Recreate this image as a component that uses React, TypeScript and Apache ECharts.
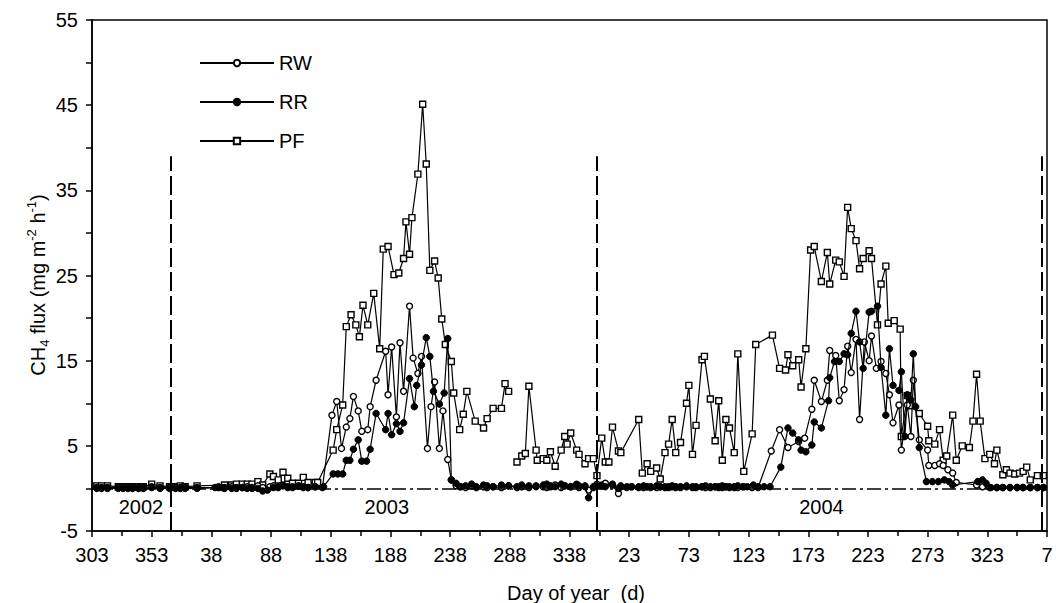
import React, { useEffect, useRef } from "react";
import * as echarts from "echarts";

// x = days counted from day 303 of 2002 (tick every 50 days)
const tickLabels = ["303", "353", "38", "88", "138", "188", "238", "288", "338", "23", "73", "123", "173", "223", "273", "323", "7"];
const yearLabels = ["2002", "2003", "2004"];
const yearLabelDays = [41, 247, 611];
const yearBoundaries = [66, 423, 796];

const rwData: [number, number | null][] = [
  [4, 0.1], [8, 0.1], [13, 0.1], [22, 0.1], [26, 0.1], [30, 0.1], [34, 0.1], [39, 0.1], [43, 0.1], [50, 0.2], [57, 0.1], [65, 0.1], [70, 0.1], [74, 0.1], [78, 0.1], [88, 0.1],
  [106, 0.1], [111, 0.1], [117, 0.2], [121, 0.1], [126, 0.1], [130, 0.2], [134, 0.1], [139, 0.3], [143, 0.1], [149, 0.2], [152, 0.3], [156, 0.1], [160, 0.4], [164, 0.2], [168, 0.1], [173, 0.3], [177, 0.2], [181, 0.1], [187, 0.2], [193, 0.1],
  [201, 8.6], [205, 10.2], [209, 4.7], [213, 7.2], [216, 8.2], [219, 10.8], [223, 9.1], [226, 6.7], [231, 6.9], [233, 9.6], [238, 12.7], [246, 16.1], [248, 11.0], [251, 16.6], [255, 8.4], [258, 17.1], [261, 11.4], [266, 21.4], [269, 15.3], [273, 13.5], [276, 15.5], [281, 4.7], [284, 9.6], [287, 12.5], [291, 4.7], [294, 9.1], [298, 3.4], [301, 1.0], [305, 0.3],
  [309, 0.2], [313, 0.1], [318, 0.3], [322, 0.1], [328, 0.2], [331, 0.1], [336, 0.2], [343, 0.1], [349, 0.3], [356, 0.1], [360, 0.2], [366, 0.1], [372, 0.3], [378, 0.2], [381, 0.1], [384, 0.2], [388, 0.4], [393, 0.1], [396, 0.3], [401, 0.2], [406, 0.5], [408, 0.1], [413, 0.3], [416, -0.2], [420, 0.1], [423, 0.5], [427, 0.3], [430, 0.6], [436, 0.4], [441, -0.6], [443, 0.2],
  [448, 0.1], [452, 0.2], [458, 0.1], [462, 0.1], [465, 0.2], [468, 0.1], [473, 0.1], [476, 0.2], [480, 0.1], [483, 0.1], [486, 0.2], [489, 0.1], [493, 0.1], [498, 0.2], [503, 0.1], [506, 0.1], [511, 0.2], [514, 0.1], [518, 0.1], [522, 0.2], [525, 0.1], [528, 0.1], [531, 0.2], [534, 0.1], [538, 0.1], [541, 0.1], [546, 0.2], [553, 0.1], [558, 0.1],
  [569, 4.4], [576, 6.9], [583, 4.8], [592, 5.5], [597, 5.9], [603, 9.3], [605, 12.7], [611, 10.2], [616, 12.7], [618, 16.2], [623, 15.6], [626, 10.3], [630, 11.6], [633, 16.7], [636, 13.6], [640, 17.5], [643, 8.1], [647, 17.2], [651, 15.0], [653, 17.9], [657, 14.1], [661, 14.9], [665, 13.5], [668, 11.0], [671, 7.7], [676, 9.8], [678, 4.5], [683, 9.8], [686, 6.1], [688, 12.7], [693, 5.7], [700, 4.5], [701, 2.7], [706, 2.7], [710, 2.9], [713, 2.7], [717, 2.2], [721, 1.8], [724, 0.7],
  [741, 0.4], [746, 0.2], [752, 0.1], [758, 0.1], [763, 0.1], [769, 0.1], [775, 0.1], [780, 0.1], [786, 0.1], [792, 0.1], [797, 0.1],
];

const rrData: [number, number | null][] = [
  [4, 0.0], [8, 0.0], [13, 0.0], [22, 0.0], [26, 0.0], [30, 0.0], [34, 0.0], [39, 0.0], [43, 0.0], [50, 0.1], [57, 0.0], [65, 0.0], [70, 0.0], [74, 0.0], [78, 0.0], [88, 0.0],
  [103, 0.1], [106, 0.2], [109, 0.1], [111, 0.0], [117, 0.0], [121, 0.0], [126, 0.1], [130, 0.0], [134, 0.0], [139, 0.0], [143, -0.3], [147, -0.2], [152, 0.1], [156, 0.2], [160, 0.3], [164, 0.1], [168, 0.2], [173, 0.3], [177, 0.1], [181, 0.1], [187, 0.2], [194, 0.2],
  [202, 1.7], [206, 1.7], [210, 1.7], [213, 3.3], [216, 3.3], [219, 4.6], [223, 5.7], [226, 3.2], [230, 3.2], [233, 4.6], [238, 8.8], [246, 6.9], [248, 8.8], [251, 6.3], [255, 7.6], [258, 6.7], [261, 7.7], [266, 12.9], [270, 9.6], [272, 12.1], [276, 14.5], [280, 17.7], [283, 15.5], [286, 11.4], [291, 9.9], [295, 11.2], [298, 17.6], [301, 1.0], [305, 0.6], [308, 0.2],
  [313, 0.3], [318, 0.5], [322, 0.2], [328, 0.4], [331, 0.3], [336, 0.2], [343, 0.4], [349, 0.3], [356, 0.2], [360, 0.4], [366, 0.3], [372, 0.2], [378, 0.4], [381, 0.5], [384, 0.3], [388, 0.2], [393, 0.5], [396, 0.3], [401, 0.2], [406, 0.4], [408, 0.3], [413, 0.2], [416, -1.1], [420, 0.2], [423, 0.3], [427, 0.4], [430, 0.2], [436, 0.5], [441, 0.0], [443, 0.3],
  [448, 0.2], [452, 0.2], [458, 0.2], [462, 0.3], [465, 0.2], [468, 0.2], [473, 0.3], [476, 0.2], [480, 0.2], [483, 0.2], [486, 0.3], [489, 0.2], [493, 0.2], [498, 0.3], [503, 0.2], [506, 0.2], [511, 0.2], [514, 0.3], [518, 0.2], [522, 0.2], [525, 0.2], [528, 0.3], [531, 0.2], [534, 0.2], [538, 0.2], [541, 0.3], [545, 0.2], [549, 0.2], [554, 0.4], [558, 0.2], [563, 0.2], [568, 0.2],
  [577, 2.5], [583, 7.1], [587, 6.5], [592, 5.7], [594, 4.5], [598, 4.3], [603, 5.1], [605, 7.8], [611, 7.1], [617, 10.3], [618, 13.0], [622, 14.9], [626, 14.9], [630, 15.8], [633, 15.7], [636, 18.2], [640, 20.8], [643, 17.2], [646, 14.1], [651, 20.7], [653, 20.8], [658, 21.4], [661, 14.2], [665, 8.6], [668, 16.4], [671, 12.1], [676, 11.5], [678, 13.7], [681, 6.1], [683, 11.0], [686, 10.4], [688, 15.8], [690, 9.6], [693, 4.8], [699, 0.8], [704, 0.8], [709, 0.8], [714, 1.0], [718, 0.8], [721, 0.4],
  [742, 0.8], [746, 1.0], [749, 0.6], [753, 0.1], [758, 0.1], [763, 0.1], [769, 0.1], [775, 0.1], [780, 0.1], [786, 0.1], [792, 0.1], [797, 0.1],
];

const pfData: [number, number | null][] = [
  [4, 0.3], [8, 0.3], [13, 0.3], [22, 0.2], [26, 0.2], [30, 0.2], [34, 0.2], [39, 0.2], [43, 0.2], [50, 0.5], [57, 0.3], [65, 0.2], [70, 0.2], [74, 0.3], [78, 0.2], [88, 0.3],
  [111, 0.4], [117, 0.4], [121, 0.5], [126, 0.5], [130, 0.5], [134, 0.5], [139, 0.8], [143, 0.4], [149, 1.7], [152, 1.4], [156, 1.0], [160, 1.9], [164, 1.2], [168, 0.6], [173, 0.6], [177, 1.3], [181, 0.7], [187, 0.7], [189, 0.7],
  [202, 4.5], [205, 6.9], [210, 9.8], [213, 19.0], [217, 20.4], [221, 19.2], [224, 17.8], [227, 21.5], [231, 19.2], [236, 22.9], [241, 16.4], [244, 28.1], [248, 28.4], [253, 25.1], [257, 25.3], [261, 27.0], [263, 31.3], [266, 27.5], [268, 31.8], [273, 36.9], [277, 45.1], [280, 38.1], [283, 25.6], [287, 26.7], [290, 24.7], [293, 19.9], [296, 16.9], [301, 14.9], [303, 11.2], [308, 6.9], [311, 8.7], [314, 11.4], [321, 7.9], [328, 7.1], [331, 8.2], [336, 9.4], [343, 9.4], [346, 12.3], [349, 11.4],
  [352, null],
  [356, 3.1], [360, 3.8], [363, 4.1], [366, 12.0], [372, 4.5], [373, 3.3], [378, 3.5], [381, 3.3], [384, 4.3], [388, 2.6], [393, 4.5], [396, 6.1], [398, 5.2], [401, 6.5], [406, 4.5], [408, 4.0], [413, 2.9], [416, 3.5], [420, 3.5], [423, 1.5], [427, 5.9], [430, 3.1], [433, 3.1], [436, 7.2], [441, 4.4], [443, 4.2],
  [458, 8.1], [461, 1.8], [465, 2.9], [468, 2.0], [473, 2.4], [476, 1.1], [480, 4.2], [483, 5.2], [486, 8.1], [489, 4.2], [493, 5.4], [498, 10.0], [500, 12.1], [503, 4.0], [506, 7.4], [511, 15.1], [513, 15.5], [518, 10.5], [522, 5.6], [525, 10.3], [528, 3.3], [531, 8.1], [534, 7.1], [538, 4.2], [541, 15.8], [546, 2.0], [553, 6.4], [556, 16.9], [570, 18.0],
  [576, 14.1], [581, 13.9], [583, 15.7], [587, 14.4], [592, 15.1], [594, 11.9], [598, 16.4], [602, 28.0], [605, 28.4], [611, 24.3], [616, 27.7], [618, 24.0], [623, 26.8], [626, 26.6], [630, 24.9], [633, 33.0], [636, 30.5], [640, 29.1], [643, 25.8], [646, 27.0], [651, 27.9], [653, 27.0], [658, 19.2], [661, 24.0], [665, 26.1], [667, 19.4], [672, 19.7], [677, 18.7], [678, 6.1],
  [683, 10.9], [686, 9.7], [693, 8.8], [700, 7.3], [701, 5.6], [706, 5.2], [710, 6.9], [713, 3.3], [716, 3.8], [721, 8.6], [724, 3.3], [729, 5.0], [735, 4.8], [738, 7.9], [741, 13.4], [744, 7.9], [748, 3.5], [752, 4.0], [756, 2.9], [758, 4.5], [763, 1.6], [766, 2.2], [769, 1.8], [773, 1.7], [777, 1.8], [780, 2.0], [783, 2.5], [786, 1.0], [792, 1.5], [797, 1.5],
];

const FONT = "'Liberation Sans', Arial, Helvetica, sans-serif";

export default function App() {
  const ref = useRef<HTMLDivElement>(null);

  useEffect(() => {
    if (!ref.current) return;
    const chart = echarts.init(ref.current, undefined, { renderer: "svg" });

    const option: any = {
      animation: false,
      backgroundColor: "#fff",
      textStyle: { fontFamily: FONT, color: "#000" },
      grid: {
        left: 92,
        right: 9,
        top: 20,
        bottom: 72,
        show: true,
        borderColor: "#000",
        borderWidth: 1.5,
        containLabel: false,
      },
      legend: {
        orient: "vertical",
        left: 199,
        top: 53,
        padding: 0,
        itemWidth: 74,
        itemHeight: 8,
        itemGap: 19,
        textStyle: { fontSize: 20, color: "#000", fontFamily: FONT },
        data: ["RW", "RR", "PF"],
      },
      xAxis: {
        type: "value",
        min: 0,
        max: 800,
        interval: 50,
        axisLine: { onZero: false, lineStyle: { color: "#000", width: 1.5 } },
        axisTick: { show: true, length: 6, lineStyle: { color: "#000", width: 1.5 } },
        minorTick: { show: true, splitNumber: 2, length: 5, lineStyle: { color: "#000", width: 1.5 } },
        splitLine: { show: false },
        axisLabel: {
          fontSize: 20,
          color: "#000",
          fontFamily: FONT,
          margin: 14,
          formatter: (v: number) => tickLabels[Math.round(v / 50)] ?? "",
        },
      },
      yAxis: {
        type: "value",
        min: -5,
        max: 55,
        interval: 10,
        axisLine: { onZero: false, lineStyle: { color: "#000", width: 1.5 } },
        axisTick: { show: true, length: 6, lineStyle: { color: "#000", width: 1.5 } },
        minorTick: { show: true, splitNumber: 2, length: 6, lineStyle: { color: "#000", width: 1.5 } },
        splitLine: { show: false },
        axisLabel: { fontSize: 20, color: "#000", fontFamily: FONT, margin: 14 },
      },
      series: [
        {
          name: "PF",
          type: "line",
          data: pfData,
          connectNulls: false,
          symbol: "rect",
          symbolSize: 6,
          itemStyle: { color: "#fff", borderColor: "#000", borderWidth: 1.4 },
          lineStyle: { color: "#000", width: 1.2 },
          z: 2,
          markLine: {
            silent: true,
            symbol: ["none", "none"],
            label: { show: false },
            animation: false,
            data: [
              [
                { coord: [0, 0], lineStyle: { type: [14, 4, 3, 4], width: 1.5, color: "#000" } },
                { coord: [800, 0] },
              ],
              ...yearBoundaries.map((b) => [
                { coord: [b, -5], lineStyle: { type: [19, 5], width: 2, color: "#000" } },
                { coord: [b, 39] },
              ]),
            ],
          },
        },
        {
          name: "RW",
          type: "line",
          data: rwData,
          symbol: "circle",
          symbolSize: 6,
          itemStyle: { color: "#fff", borderColor: "#000", borderWidth: 1.4 },
          lineStyle: { color: "#000", width: 1.2 },
          z: 3,
          markPoint: {
            silent: true,
            symbol: "circle",
            symbolSize: 0,
            animation: false,
            label: { show: true, fontSize: 20, color: "#000", fontFamily: FONT, position: "inside" },
            data: yearLabels.map((t, i) => ({
              coord: [yearLabelDays[i], -2.2],
              value: t,
              label: { formatter: t },
            })),
          },
        },
        {
          name: "RR",
          type: "line",
          data: rrData,
          symbol: "circle",
          symbolSize: 6.5,
          itemStyle: { color: "#000", borderColor: "#000", borderWidth: 1 },
          lineStyle: { color: "#000", width: 1.2 },
          z: 4,
        },
      ],
      graphic: [
        {
          type: "text",
          x: 38,
          y: 285,
          rotation: Math.PI / 2,
          style: {
            text: "{n|CH}{sub|4}{n| flux (mg m}{sup|-2}{n| h}{sup|-1}{n|)}",
            align: "center",
            verticalAlign: "middle",
            fill: "#000",
            rich: {
              n: { fontSize: 20, fontFamily: FONT, lineHeight: 26, fill: "#000" },
              sub: { fontSize: 13, fontFamily: FONT, lineHeight: 14, verticalAlign: "bottom", fill: "#000" },
              sup: { fontSize: 13, fontFamily: FONT, lineHeight: 14, verticalAlign: "top", fill: "#000" },
            },
          },
        },
        {
          type: "text",
          x: 576,
          y: 593,
          style: {
            text: "Day of year  (d)",
            align: "center",
            verticalAlign: "middle",
            fontSize: 20,
            fontFamily: FONT,
            fill: "#000",
          },
        },
      ],
    };

    chart.setOption(option);
    return () => chart.dispose();
  }, []);

  return (
    <div
      ref={ref}
      style={{ position: "fixed", left: 0, top: 0, width: 1056, height: 603, background: "#fff" }}
    />
  );
}
